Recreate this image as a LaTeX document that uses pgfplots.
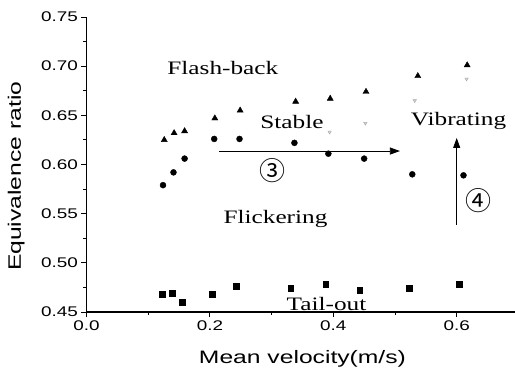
\documentclass[border=0pt]{standalone}
\usepackage{pgfplots}
\pgfplotsset{compat=1.18}
\usepackage{graphicx}
\usepackage{fontspec}
\setmainfont{Liberation Serif}
\setsansfont{Liberation Sans}
\newfontfamily\cjk{Noto Sans CJK SC}
\usetikzlibrary{arrows.meta}
\newcommand\tk[1]{\scalebox{1.35}[1]{\fontsize{14bp}{16bp}\selectfont\sffamily #1}}
\newcommand\lab[1]{\scalebox{1.37}[1]{\fontsize{18bp}{20bp}\selectfont\sffamily #1}}
\newcommand\ann[1]{\scalebox{1.33}[1]{\fontsize{19bp}{21bp}\selectfont\rmfamily #1}}

\pgfplotstableread{
x y
0.126 0.625
0.142 0.632
0.159 0.634
0.208 0.647
0.249 0.655
0.339 0.664
0.395 0.667
0.453 0.674
0.537 0.690
0.617 0.701
}\flashback
\pgfplotstableread{
x y
0.124 0.579
0.141 0.592
0.159 0.606
0.207 0.626
0.248 0.626
0.337 0.622
0.392 0.611
0.450 0.606
0.528 0.590
0.611 0.589
}\flicker
\pgfplotstableread{
x y
0.123 0.468
0.139 0.469
0.155 0.460
0.204 0.468
0.243 0.476
0.331 0.474
0.388 0.478
0.443 0.472
0.523 0.474
0.604 0.478
}\tailout
\pgfplotstableread{
x y
0.394 0.633
0.452 0.642
0.532 0.665
0.616 0.687
}\vibr

\begin{document}
\begin{tikzpicture}
\useasboundingbox (-86.5bp,-66bp) rectangle (428.5bp,312bp);
\begin{axis}[
  at={(0,0)}, anchor=south west,
  scale only axis, width=431.9bp, height=295bp,
  xmin=0, xmax=0.7, ymin=0.45, ymax=0.75,
  axis x line=bottom, axis y line=left,
  axis line style={-, line width=1.1bp},
  xtick={0,0.2,0.4,0.6}, minor xtick={0.1,0.3,0.5},
  ytick={0.45,0.5,0.55,0.6,0.65,0.7,0.75},
  minor ytick={0.475,0.525,0.575,0.625,0.675,0.725},
  tick align=outside, major tick length=5bp, minor tick length=3bp,
  tick style={black, line width=0.9bp},
  xticklabel={\tk{\pgfmathprintnumber[fixed,fixed zerofill,precision=1,assume math mode=true]{\tick}}},
  yticklabel={\tk{\pgfmathprintnumber[fixed,fixed zerofill,precision=2,assume math mode=true]{\tick}}},
  xlabel={\lab{Mean velocity(m/s)}},
  ylabel={\lab{Equivalence ratio}},
  xlabel style={at={(axis description cs:0.5,0)}, anchor=base, yshift=-51bp},
  ylabel style={at={(axis description cs:-0.1517,0.46)}, anchor=base},
  clip=false,
]
\addplot[only marks, mark=triangle*, mark size=3.5bp, black] table[x=x,y=y] {\flashback};
\addplot[only marks, mark=*, mark size=3bp, black] table[x=x,y=y] {\flicker};
\addplot[only marks, mark=square*, mark size=2.8bp, black] table[x=x,y=y] {\tailout};
\addplot[only marks, mark=triangle*, mark size=2bp, draw=gray!70, fill=gray!35, mark options={rotate=180}] table[x=x,y=y] {\vibr};

\node[anchor=base] at (axis cs:0.221,0.692) {\ann{Flash-back}};
\node[anchor=base] at (axis cs:0.333,0.637) {\ann{Stable}};
\node[anchor=base] at (axis cs:0.603,0.640) {\ann{Vibrating}};
\node[anchor=base] at (axis cs:0.3063,0.5405) {\ann{Flickering}};
\node[anchor=base] at (axis cs:0.389,0.452) {\ann{Tail-out}};

\draw[-{Triangle[length=10bp,width=7bp]}, line width=0.8bp] (axis cs:0.215,0.6137) -- (axis cs:0.508,0.6137);
\draw[-{Triangle[length=10bp,width=7bp]}, line width=0.8bp] (axis cs:0.600,0.5385) -- (axis cs:0.600,0.627);
\node at (axis cs:0.302,0.594) {\cjk\fontsize{26bp}{28bp}\selectfont ③};
\node at (axis cs:0.636,0.563) {\cjk\fontsize{26bp}{28bp}\selectfont ④};
\end{axis}
\end{tikzpicture}
\end{document}
